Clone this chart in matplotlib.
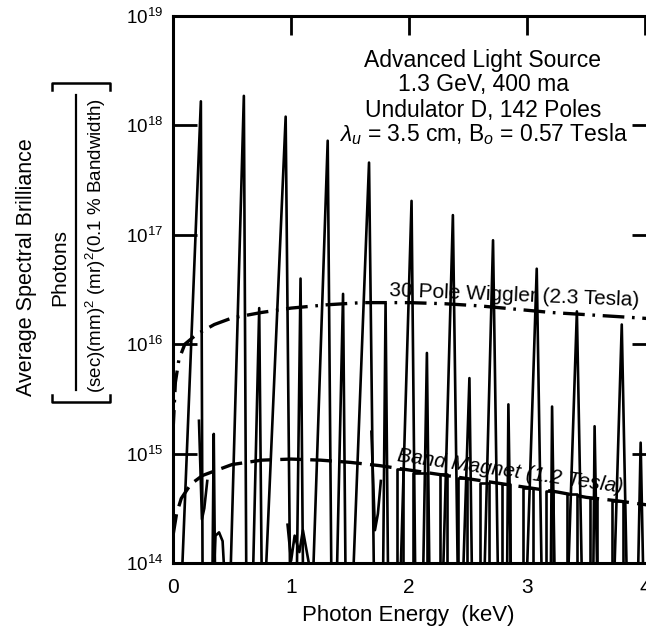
import numpy as np
import matplotlib
matplotlib.use("Agg")
import matplotlib.pyplot as plt
from matplotlib.lines import Line2D
from matplotlib.ticker import NullLocator

plt.rcParams['font.family'] = ['Liberation Sans', 'DejaVu Sans']
plt.rcParams['mathtext.fontset'] = 'custom'
plt.rcParams['mathtext.rm'] = 'Liberation Sans'
plt.rcParams['mathtext.it'] = 'Liberation Sans:italic'
plt.rcParams['mathtext.bf'] = 'Liberation Sans:bold'

# energies in keV, brilliance given as log10 values
# 30 pole wiggler (2.3 T)
wig_x = [0.0, 0.02, 0.05, 0.1, 0.2, 0.35, 0.5, 0.75, 1.0, 1.3, 1.6, 2.0, 2.3, 2.6, 2.9, 3.2, 3.5, 3.8, 4.09]
wig_y = [15.2, 15.65, 15.86, 16.0, 16.09, 16.18, 16.24, 16.29, 16.33, 16.36, 16.38, 16.38, 16.37, 16.35, 16.32, 16.29, 16.27, 16.25, 16.23]

# bend magnet (1.2 T)
band_x = [0.0, 0.03, 0.07, 0.15, 0.25, 0.5, 0.75, 1.0, 1.25, 1.5, 1.75, 2.0, 2.25, 2.5, 2.75, 3.0, 3.25, 3.5, 3.75, 4.09]
band_y = [14.25, 14.45, 14.59, 14.72, 14.80, 14.90, 14.94, 14.95, 14.94, 14.92, 14.89, 14.85, 14.81, 14.77, 14.73, 14.69, 14.65, 14.60, 14.57, 14.52]

# undulator D, odd harmonics (tall tuning spikes)
main_left = [0.08, 0.49, 0.79, 1.19, 1.53, 1.93, 2.29, 2.64, 3.00, 3.35, 3.74]
main_px = [0.236, 0.60, 0.954, 1.31, 1.66, 2.02, 2.37, 2.71, 3.08, 3.42, 3.80]
main_peak = [18.22, 18.27, 18.08, 17.86, 17.66, 17.31, 17.18, 16.95, 16.69, 16.30, 16.18]
main_right = [0.25, 0.62, 0.99, 1.34, 1.70, 2.05, 2.41, 2.75, 3.12, 3.46, 3.84]

# even harmonics (lower spikes)
sec_left = [0.335, 0.68, 1.05, 1.39, 1.78, 2.12, 2.46, 2.83, 3.20, 3.56, 3.94]
sec_px = [0.345, 0.73, 1.08, 1.44, 1.80, 2.15, 2.51, 2.84, 3.21, 3.57, 3.96]
sec_peak = [15.18, 16.33, 16.60, 16.46, 16.37, 15.92, 15.69, 15.45, 15.43, 15.25, 15.10]
sec_right = [0.355, 0.75, 1.10, 1.46, 1.82, 2.17, 2.53, 2.86, 3.23, 3.59, 3.98]

# flat-topped high harmonic pieces near the bend magnet level
pi_left = [1.90, 2.03, 2.26, 2.41, 2.60, 2.79, 2.96, 3.16, 3.34, 3.53, 3.72]
pi_right = [1.95, 2.15, 2.32, 2.49, 2.68, 2.85, 3.05, 3.22, 3.42, 3.59, 3.81]
pi_top = [14.86, 14.82, 14.81, 14.78, 14.73, 14.72, 14.69, 14.66, 14.63, 14.59, 14.57]

# small low-energy shoulders
sh1_x = [0.22, 0.245, 0.265, 0.29]
sh1_y = [15.3, 14.4, 14.5, 14.75]
hump_x = [0.35, 0.36, 0.39, 0.42, 0.43]
hump_y = [14.0, 14.25, 14.28, 14.2, 14.0]
w_x = [0.97, 1.0, 1.03, 1.07, 1.1, 1.15]
w_y = [14.35, 14.02, 14.25, 14.1, 14.3, 14.0]
sh5_x = [1.68, 1.71, 1.735, 1.76]
sh5_y = [15.2, 14.3, 14.45, 14.75]

decades = [14, 15, 16, 17, 18, 19]

W, H = 646, 637
fig = plt.figure(figsize=(W / 100, H / 100), dpi=100)


def fx(p):
    return p / W


def fy(p):
    return 1 - p / H


ax = fig.add_axes([fx(173), fy(563), (656 - 173) / W, (563 - 16) / H])
ax.set_yscale('log')
ax.set_xlim(0, 4.09)
ax.set_ylim(1e14, 1e19)

lw = 1.9
for l, p, pk, r in zip(main_left, main_px, main_peak, main_right):
    ax.plot([l, p, r], 10.0 ** np.array([14, pk, 14]), color='k', lw=lw)
for l, p, pk, r in zip(sec_left, sec_px, sec_peak, sec_right):
    ax.plot([l, p, r], 10.0 ** np.array([14, pk, 14]), color='k', lw=lw)
for l, r, t in zip(pi_left, pi_right, pi_top):
    ax.plot([l, l, r, r], 10.0 ** np.array([14, t, t, 14]), color='k', lw=lw)
for xs, ys in [(sh1_x, sh1_y), (hump_x, hump_y), (w_x, w_y), (sh5_x, sh5_y)]:
    ax.plot(xs, 10.0 ** np.array(ys), color='k', lw=lw)

ax.plot(wig_x, 10.0 ** np.array(wig_y), color='k', lw=2.4,
        linestyle=(0, (6.5, 2.3, 0.8, 2.3)))
ax.plot(band_x, 10.0 ** np.array(band_y), color='k', lw=2.4,
        linestyle=(0, (6.5, 2.5)))

# axes frame and ticks
for s in ['left', 'top', 'bottom']:
    ax.spines[s].set_linewidth(2.2)
ax.spines['right'].set_visible(False)

ax.set_yticks([10.0 ** d for d in decades])
ax.set_yticklabels([r'10$^{%d}$' % d for d in decades])
ax.yaxis.set_minor_locator(NullLocator())
ax.tick_params(axis='y', direction='in', length=17, width=2, left=True, right=True,
               labelsize=13.5, pad=7)
ax.set_xticks([0, 1, 2, 3, 4])
ax.set_xticklabels(['0', '1', '2', '3', '4'])
ax.tick_params(axis='x', direction='in', length=14, width=2, top=True, bottom=False,
               labelsize=15, pad=11)

# y axis label: title and units fraction in brackets
fig.text(fx(27), fy(267), 'Average Spectral Brilliance', rotation=90,
         ha='center', va='center', fontsize=15.5)
fig.text(fx(60), fy(268), 'Photons', rotation=90, ha='center', va='center', fontsize=15)
fig.text(fx(96), fy(246), r'(sec)(mm)$^2$ (mr)$^2$(0.1 % Bandwidth)', rotation=90,
         ha='center', va='center', fontsize=13.5)
fig.add_artist(Line2D([fx(76), fx(76)], [fy(95), fy(390)], color='k', lw=1.6))
for yb, sgn in [(83, 1), (402, -1)]:
    fig.add_artist(Line2D([fx(52), fx(52), fx(110), fx(110)],
                          [fy(yb + 7 * sgn), fy(yb), fy(yb), fy(yb + 7 * sgn)],
                          color='k', lw=1.8))

fig.text(fx(408), fy(616), 'Photon Energy  (keV)', ha='center', va='center', fontsize=16)

# source parameters
info = ['Advanced Light Source', '1.3 GeV, 400 ma', 'Undulator D, 142 Poles',
        r'$\lambda_u$ = 3.5 cm, B$_o$ = 0.57 Tesla']
for t, yy in zip(info, [61, 84, 111, 134]):
    fig.text(fx(483), fy(yy), t, ha='center', va='center', fontsize=16.5)

fig.text(fx(514), fy(296), '30 Pole Wiggler (2.3 Tesla)', rotation=-2.3,
         ha='center', va='center', fontsize=15)
fig.text(fx(510), fy(471), 'Band Magnet (1.2 Tesla)', rotation=-8,
         ha='center', va='center', fontsize=15, style='italic')

fig.savefig('out.png', dpi=100)
